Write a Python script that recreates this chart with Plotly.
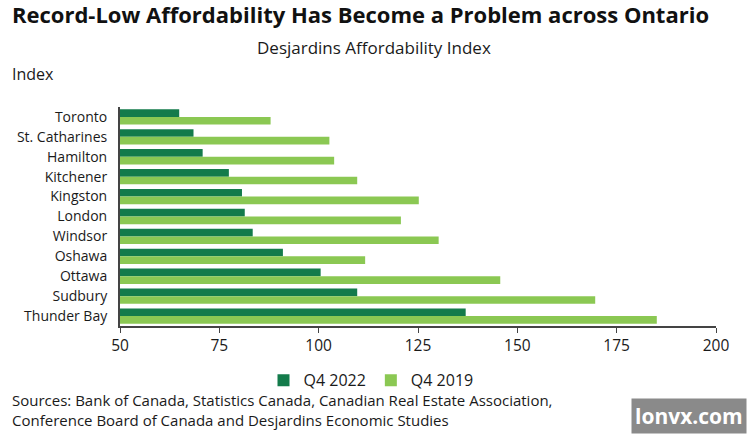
import plotly.graph_objects as go

cities = ["Toronto", "St. Catharines", "Hamilton", "Kitchener", "Kingston", "London",
          "Windsor", "Oshawa", "Ottawa", "Sudbury", "Thunder Bay"]
q4_2022 = [64.9, 68.5, 70.8, 77.4, 80.7, 81.4, 83.4, 91.0, 100.5, 109.7, 137.0]
q4_2019 = [87.9, 102.7, 103.9, 109.7, 125.2, 120.7, 130.2, 111.7, 145.7, 169.6, 185.1]
x_ticks = [50, 75, 100, 125, 150, 175, 200]

DARK = "#137B4B"
LIGHT = "#8BC853"
FONT = "Open Sans"

fig = go.Figure()
fig.add_trace(go.Bar(y=cities, x=q4_2022, orientation="h", name="Q4 2022",
                     marker=dict(color=DARK, line=dict(width=0))))
fig.add_trace(go.Bar(y=cities, x=q4_2019, orientation="h", name="Q4 2019",
                     marker=dict(color=LIGHT, line=dict(width=0))))

PW = 596.0
def px(xpix):
    return (xpix - 120) / PW

fig.update_layout(
    width=750, height=435,
    margin=dict(l=120, r=34, t=107, b=109),
    paper_bgcolor="white", plot_bgcolor="white",
    barmode="group", bargap=0.23, bargroupgap=0,
    font=dict(family=FONT, color="#1a1a1a"),
    showlegend=True,
    legend=dict(orientation="h", x=px(371), xanchor="center", y=-0.17, yanchor="top",
                font=dict(size=16, family=FONT, color="#1a1a1a"),
                itemwidth=30, traceorder="normal", itemclick=False),
    xaxis=dict(range=[50, 200], tickvals=x_ticks, ticktext=[str(v) for v in x_ticks],
               showgrid=False, zeroline=False, showline=True, linecolor="#444",
               linewidth=1.5, ticks="outside", ticklen=5, tickcolor="#444",
               tickfont=dict(size=15.5, family=FONT, color="#1a1a1a")),
    yaxis=dict(autorange="reversed", showgrid=False, zeroline=False, showline=True,
               linecolor="#444", linewidth=2, ticks="", ticklabelstandoff=8,
               tickfont=dict(size=14, family=FONT, color="#1a1a1a")),
)

fig.add_annotation(text="<b>Record-Low Affordability Has Become a Problem across Ontario</b>",
                   xref="paper", yref="paper", x=px(10), y=1.0, xanchor="left",
                   yanchor="middle", yshift=107 - 14, showarrow=False,
                   font=dict(size=22, family=FONT, color="#111"))
fig.add_annotation(text="Desjardins Affordability Index", xref="paper", yref="paper",
                   x=px(374), y=1.0, yshift=107 - 47, xanchor="center", yanchor="middle",
                   showarrow=False, font=dict(size=17, family=FONT, color="#1a1a1a"))
fig.add_annotation(text="Index", xref="paper", yref="paper", x=px(10), y=1.0,
                   yshift=107 - 74, xanchor="left", yanchor="middle", showarrow=False,
                   font=dict(size=16, family=FONT, color="#1a1a1a"))
fig.add_annotation(text="Sources: Bank of Canada, Statistics Canada, Canadian Real Estate Association,<br>"
                        "Conference Board of Canada and Desjardins Economic Studies",
                   xref="paper", yref="paper", x=px(10), y=0.0, yshift=-(410 - 326),
                   xanchor="left", yanchor="middle", align="left", showarrow=False,
                   font=dict(size=15, family=FONT, color="#1a1a1a"))
fig.add_annotation(text="<b>lonvx.com</b>", xref="paper", yref="paper", x=px(747), y=0.0,
                   yshift=-(416 - 326), xanchor="right", yanchor="middle", showarrow=False,
                   bgcolor="#8a8a8a", borderpad=3,
                   font=dict(size=21, family=FONT, color="white"))

fig.write_html("out.html")
